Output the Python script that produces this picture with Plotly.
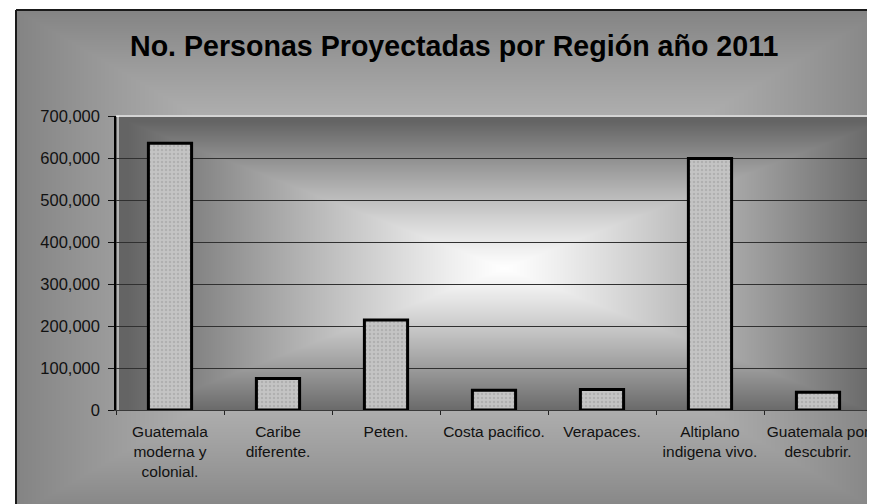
import base64
import struct
import zlib

import numpy as np
import plotly.graph_objects as go

# ---------------- data ----------------
regiones = [
    "Guatemala<br>moderna y<br>colonial.",
    "Caribe<br>diferente.",
    "Peten.",
    "Costa pacifico.",
    "Verapaces.",
    "Altiplano<br>indigena vivo.",
    "Guatemala por<br>descubrir.",
]
personas = [635000, 75000, 214000, 47000, 49000, 599000, 42000]
y_ticks = [0, 100000, 200000, 300000, 400000, 500000, 600000, 700000]
titulo = "No. Personas Proyectadas por Región año 2011"

# ---------------- layout geometry ----------------
# the page adds an 8px body margin, so the figure is drawn 8px smaller / shifted
OFF = 8
W, H = 875 - OFF, 504 - OFF
ML, MR, MT, MB = 116 - OFF, 3, 116 - OFF, 94
PW, PH = W - ML - MR, H - MT - MB
CHART_X0, CHART_Y0 = 16 - OFF, 10 - OFF  # outer chart border (px, figure coords)


def png_data_uri(gray):
    gray = np.asarray(gray, dtype=np.uint8)
    h, w = gray.shape
    raw = b"".join(b"\x00" + gray[r].tobytes() for r in range(h))

    def chunk(tag, data):
        c = struct.pack(">I", len(data)) + tag + data
        return c + struct.pack(">I", zlib.crc32(tag + data) & 0xFFFFFFFF)

    png = b"\x89PNG\r\n\x1a\n"
    png += chunk(b"IHDR", struct.pack(">IIBBBBB", w, h, 8, 0, 0, 0, 0))
    png += chunk(b"IDAT", zlib.compress(raw, 9))
    png += chunk(b"IEND", b"")
    return "data:image/png;base64," + base64.b64encode(png).decode()


def rect_gradient(w, h, cx, cy, light, dark, power):
    xs = np.arange(w)[None, :]
    ys = np.arange(h)[:, None]
    t = np.maximum(np.abs(xs - cx) / (w / 2.0), np.abs(ys - cy) / (h / 2.0))
    t = np.clip(t, 0, 1) ** power
    return light + (dark - light) * t


# chart background (whole chart area)
cw, ch = W - CHART_X0 + 10, H - CHART_Y0 + 10
chart_bg = rect_gradient(cw, ch, cw / 2.0, ch / 2.0, 208, 132, 1.5)
# plot area background (white centre path gradient)
plot_bg = rect_gradient(PW, PH, PW / 2.0 + 10, PH / 2.0 + 5, 255, 100, 1.15)

fig = go.Figure()
fig.add_trace(
    go.Bar(
        x=regiones,
        y=personas,
        width=0.4,
        marker=dict(
            color="#c2c2c2",
            line=dict(color="#000000", width=3),
            pattern=dict(shape=".", fgcolor="#9c9c9c", bgcolor="#c4c4c4", size=4, solidity=0.3),
        ),
        hoverinfo="x+y",
    )
)

fig.update_layout(
    width=W,
    height=H,
    margin=dict(l=ML, r=MR, t=MT, b=MB, pad=0, autoexpand=False),
    paper_bgcolor="#ffffff",
    plot_bgcolor="rgba(0,0,0,0)",
    showlegend=False,
    font=dict(family="Arial, Liberation Sans, sans-serif", color="#000000"),
    images=[
        dict(
            source=png_data_uri(chart_bg),
            xref="paper", yref="paper",
            x=(CHART_X0 - ML) / PW, y=(H - MB - CHART_Y0) / PH,
            sizex=cw / PW, sizey=ch / PH,
            xanchor="left", yanchor="top",
            sizing="stretch", layer="below",
        ),
        dict(
            source=png_data_uri(plot_bg),
            xref="paper", yref="paper",
            x=0, y=1, sizex=1, sizey=1,
            xanchor="left", yanchor="top",
            sizing="stretch", layer="below",
        ),
    ],
    shapes=[
        # outer chart border (left + top)
        dict(type="line", xref="paper", yref="paper",
             x0=(CHART_X0 - ML) / PW, x1=(CHART_X0 - ML) / PW,
             y0=-MB / PH - 0.1, y1=(H - MB - CHART_Y0) / PH,
             line=dict(color="#1a1a1a", width=2)),
        dict(type="line", xref="paper", yref="paper",
             x0=(CHART_X0 - ML) / PW, x1=1.1,
             y0=(H - MB - CHART_Y0) / PH, y1=(H - MB - CHART_Y0) / PH,
             line=dict(color="#1a1a1a", width=2)),
        # light plot-area border top & right
        dict(type="line", xref="paper", yref="paper", x0=0, x1=1, y0=1, y1=1,
             line=dict(color="#d4d4d4", width=2), layer="below"),
        dict(type="line", xref="paper", yref="paper", x0=1, x1=1, y0=0, y1=1,
             line=dict(color="#d4d4d4", width=2), layer="below"),
        # white highlight next to y axis
        dict(type="line", xref="paper", yref="paper", x0=2 / PW, x1=2 / PW, y0=0, y1=1,
             line=dict(color="#ffffff", width=1), layer="below"),
    ],
    annotations=[
        dict(
            text="<b>" + titulo + "</b>",
            xref="paper", yref="paper",
            x=(453.5 - OFF - ML) / PW, y=(H - MB - (46 - OFF)) / PH,
            xanchor="center", yanchor="middle",
            showarrow=False,
            font=dict(size=28.6, color="#000000", family="Arial, Liberation Sans, sans-serif"),
        )
    ],
)

fig.update_xaxes(
    type="category",
    automargin=False,
    tickangle=0,
    showgrid=False,
    showline=True,
    linecolor="#3a3a3a",
    linewidth=1,
    ticks="outside",
    tickson="boundaries",
    ticklen=4,
    tickcolor="#222222",
    tickfont=dict(size=15.5, color="#111111"),
    ticklabelstandoff=7,
    zeroline=False,
)
fig.update_yaxes(
    automargin=False,
    range=[0, 700000],
    tickvals=y_ticks,
    tickformat=",",
    showgrid=True,
    gridcolor="#303030",
    gridwidth=1.2,
    showline=True,
    linecolor="#000000",
    linewidth=1.5,
    ticks="outside",
    ticklen=6,
    tickcolor="#111111",
    tickfont=dict(size=16.5, color="#111111"),
    ticklabelstandoff=5,
    zeroline=False,
)

fig.write_html("out.html")
